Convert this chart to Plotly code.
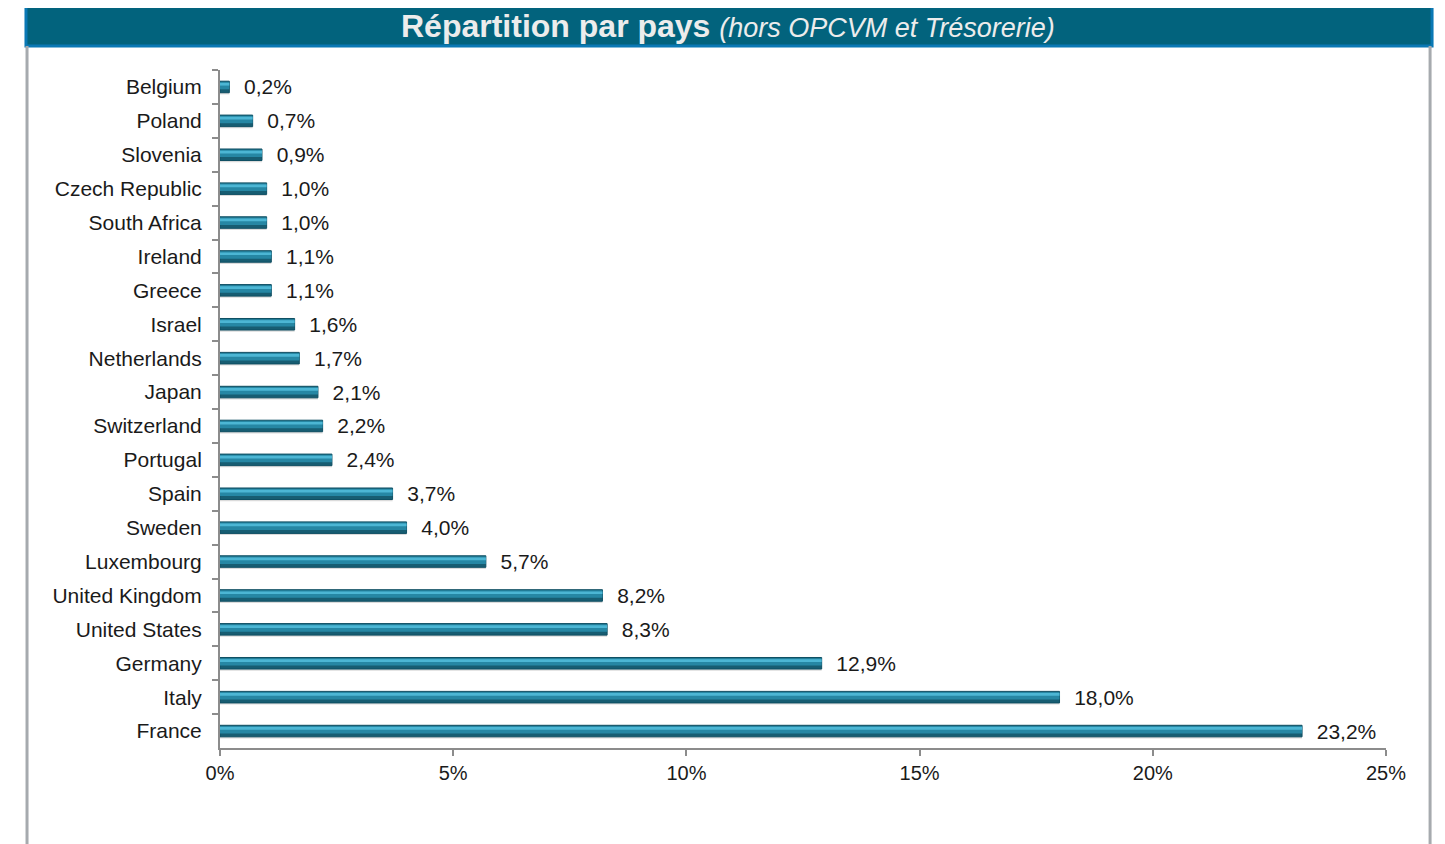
import plotly.graph_objects as go

# Répartition par pays (hors OPCVM et Trésorerie), en %
pays = ["Belgium", "Poland", "Slovenia", "Czech Republic", "South Africa",
        "Ireland", "Greece", "Israel", "Netherlands", "Japan", "Switzerland",
        "Portugal", "Spain", "Sweden", "Luxembourg", "United Kingdom",
        "United States", "Germany", "Italy", "France"]
poids = [0.2, 0.7, 0.9, 1.0, 1.0, 1.1, 1.1, 1.6, 1.7, 2.1, 2.2,
         2.4, 3.7, 4.0, 5.7, 8.2, 8.3, 12.9, 18.0, 23.2]
ticks_x = [0, 5, 10, 15, 20, 25]
ticks_x_txt = ["0%", "5%", "10%", "15%", "20%", "25%"]

etiquettes = ["\u00a0\u00a0" + f"{v:.1f}%".replace(".", ",") for v in poids]

police = "Liberation Sans, Arial, sans-serif"

fig = go.Figure()
# ombre
fig.add_trace(go.Bar(x=poids, y=pays, orientation="h", width=0.34, offset=-0.12,
                     marker=dict(color="rgba(90,90,90,0.22)", line_width=0),
                     hoverinfo="skip"))
# barre principale (bas foncé)
fig.add_trace(go.Bar(x=poids, y=pays, orientation="h", width=0.34, offset=-0.17,
                     marker=dict(color="#175d72", line=dict(color="#0f4f63", width=1)),
                     text=etiquettes, textposition="outside", cliponaxis=False,
                     constraintext="none",
                     textfont=dict(family=police, size=21, color="#1a1a1a")))
# corps
fig.add_trace(go.Bar(x=poids, y=pays, orientation="h", width=0.22, offset=-0.15,
                     marker=dict(color="#2687a4", line_width=0),
                     hoverinfo="skip"))
# reflet
fig.add_trace(go.Bar(x=poids, y=pays, orientation="h", width=0.08, offset=-0.12,
                     marker=dict(color="#4cb6d4", line_width=0),
                     hoverinfo="skip"))

fig.update_layout(
    barmode="overlay",
    width=1437, height=836,
    margin=dict(l=212, r=59, t=62, b=96),
    paper_bgcolor="white", plot_bgcolor="white",
    showlegend=False,
    font=dict(family=police, size=21, color="#1a1a1a"),
    xaxis=dict(range=[0, 25], tickvals=ticks_x, ticktext=ticks_x_txt,
               showgrid=False, zeroline=False, showline=True,
               linecolor="#8c8c8c", linewidth=2,
               ticks="outside", ticklen=6, tickcolor="#8c8c8c", tickwidth=2,
               tickfont=dict(size=20)),
    yaxis=dict(type="category", autorange="reversed", tickson="boundaries",
               showgrid=False, showline=True, linecolor="#8c8c8c", linewidth=2,
               ticks="outside", ticklen=6, tickcolor="#8c8c8c", tickwidth=2,
               ticklabelstandoff=12, tickfont=dict(size=21)),
)

# bandeau de titre et cadre (plot area: 1166 x 678 px)
fig.add_shape(type="rect", xref="paper", yref="paper",
              x0=-0.1664, x1=1.0395, y0=1.0354, y1=1.0944,
              fillcolor="#02637d", line=dict(color="#0a78b4", width=3), layer="above")
fig.add_shape(type="line", xref="paper", yref="paper",
              x0=-0.1655, x1=-0.1655, y0=1.0354, y1=-0.15,
              line=dict(color="#a6aaae", width=3))
fig.add_shape(type="line", xref="paper", yref="paper",
              x0=1.0378, x1=1.0378, y0=1.0354, y1=-0.15,
              line=dict(color="#a6aaae", width=3))
fig.add_annotation(xref="paper", yref="paper", x=0.4357, y=1.0649,
                   xanchor="center", yanchor="middle", showarrow=False,
                   text="<b>Répartition par pays</b> "
                        "<i><span style='font-size:27px'>(hors OPCVM et Trésorerie)</span></i>",
                   font=dict(family=police, size=32, color="#ececec"))

fig.write_html("out.html")
